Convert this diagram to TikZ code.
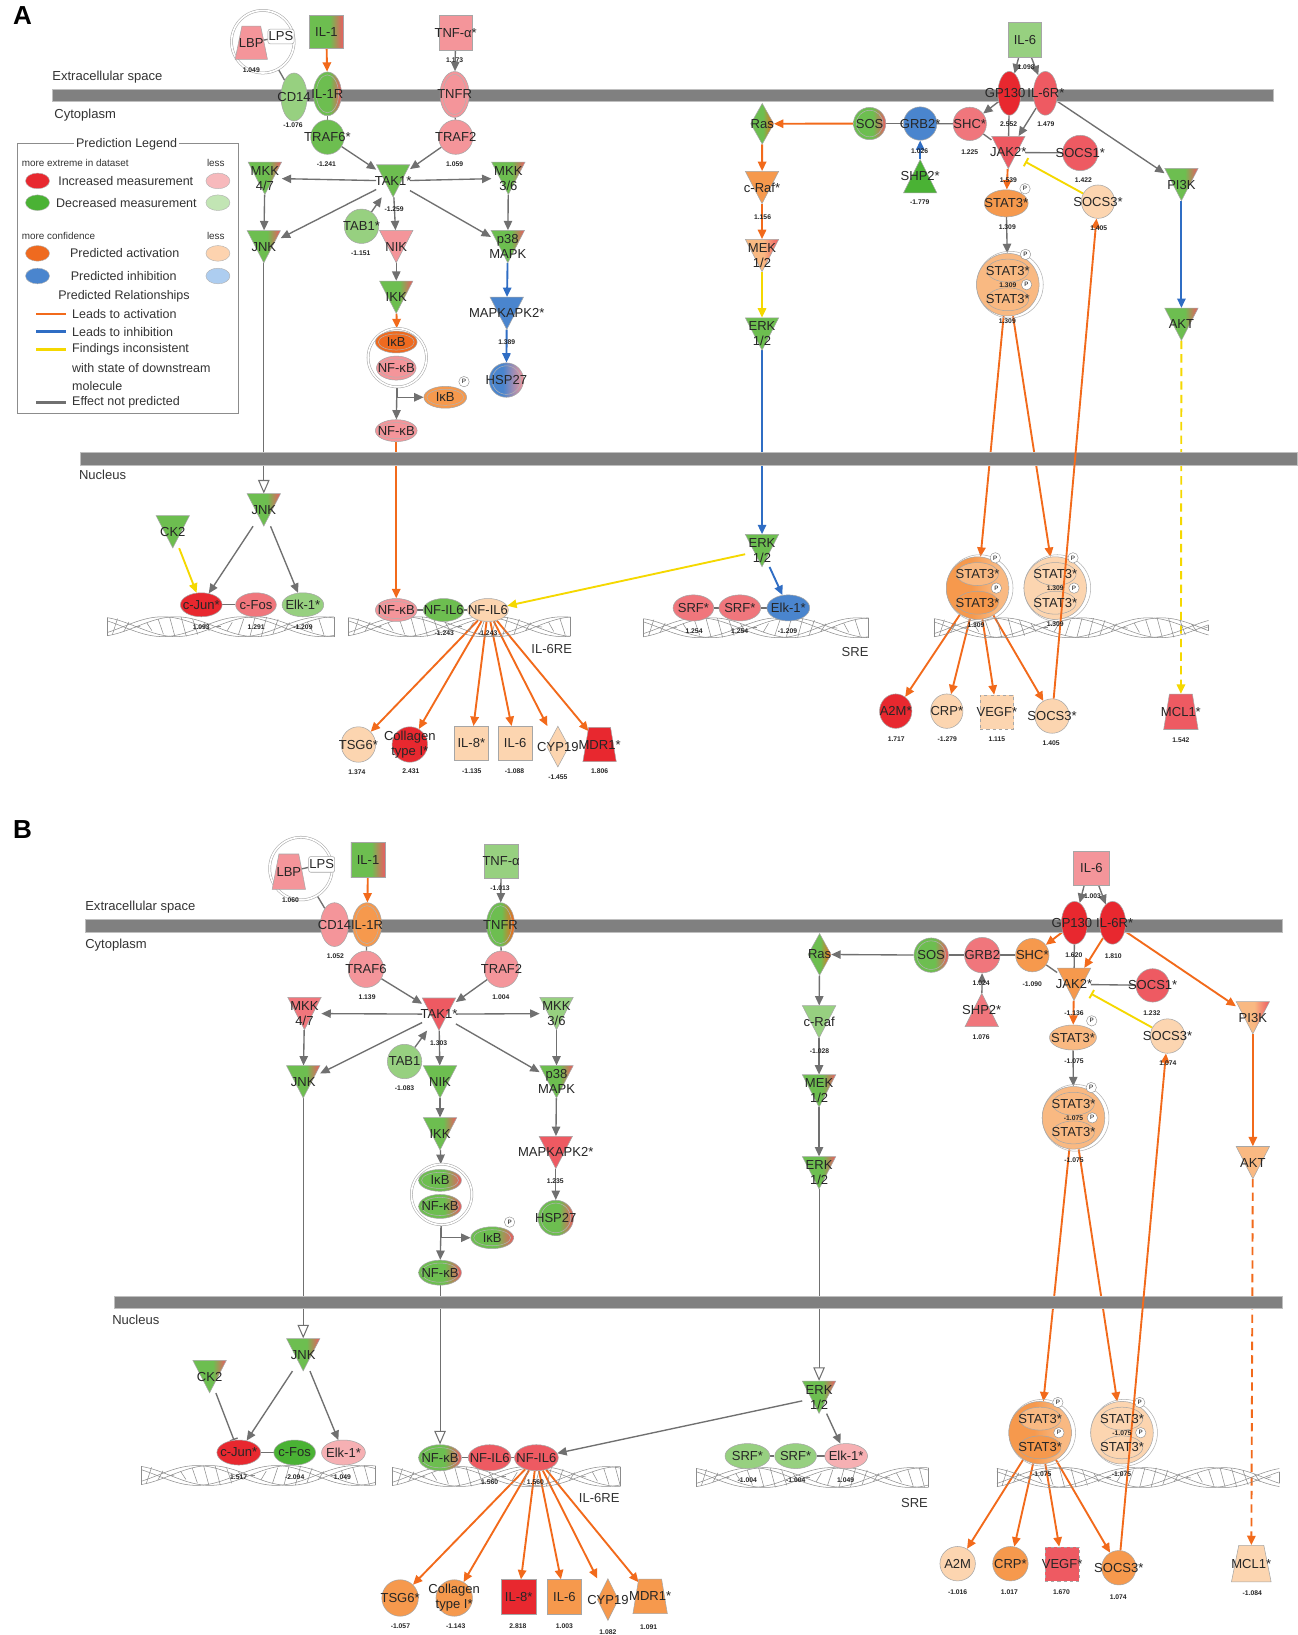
\documentclass[tikz,border=0pt]{standalone}
\usepackage{fontspec}
\setmainfont{Liberation Sans}
\usetikzlibrary{arrows.meta,calc,shapes.geometric}
\definecolor{cRs}{HTML}{E8282F}
\definecolor{cRm}{HTML}{EE5A62}
\definecolor{cPm}{HTML}{F0767C}
\definecolor{cPk}{HTML}{F4959A}
\definecolor{cPl}{HTML}{F6B0B3}
\definecolor{cGs}{HTML}{4AB234}
\definecolor{cGm}{HTML}{6DBE50}
\definecolor{cGl}{HTML}{97D080}
\definecolor{cOd}{HTML}{EF6A1F}
\definecolor{cOm}{HTML}{F6994D}
\definecolor{cOl}{HTML}{F9B982}
\definecolor{cPe}{HTML}{FCD5B0}
\definecolor{cBl}{HTML}{4A85CE}
\definecolor{lgR}{HTML}{F7B9BC}
\definecolor{lgG}{HTML}{C2E5B4}
\definecolor{lgO}{HTML}{FDD3AF}
\definecolor{lgB}{HTML}{ADCDF0}
\definecolor{eOr}{HTML}{F26A1B}
\definecolor{eBl}{HTML}{2F6DC4}
\definecolor{eYe}{HTML}{F5D800}
\definecolor{eGr}{HTML}{707070}
\definecolor{cBar}{HTML}{808080}
\pgfdeclarehorizontalshading{gR}{100bp}{color(0bp)=(cGm); color(25bp)=(cGm); color(55bp)=(cGm); color(75bp)=(cRm); color(100bp)=(cRm)}
\pgfdeclarehorizontalshading{gO}{100bp}{color(0bp)=(cGm); color(25bp)=(cGm); color(52bp)=(cGm); color(73bp)=(cOd); color(100bp)=(cOd)}
\pgfdeclarehorizontalshading{bP}{100bp}{color(0bp)=(cBl); color(25bp)=(cBl); color(45bp)=(cBl); color(75bp)=(cPk); color(100bp)=(cPk)}
\pgfdeclarehorizontalshading{oR}{100bp}{color(0bp)=(cOl); color(25bp)=(cOl); color(52bp)=(cOl); color(75bp)=(cRm); color(100bp)=(cRm)}
\pgfdeclarehorizontalshading{dO}{100bp}{color(0bp)=(cOm); color(25bp)=(cOm); color(45bp)=(cOm); color(65bp)=(cOl); color(100bp)=(cOl)}
\pgfdeclarelayer{edges}
\pgfdeclarelayer{bars}
\pgfdeclarelayer{labels}
\pgfsetlayers{edges,bars,main,labels}
\tikzset{
 nshape/.style={draw=black!35,line width=0.5pt},
 anc/.style={rectangle,inner sep=0pt},
 lab/.style={font=\fontsize{12.5}{14.5}\selectfont,text=black!85,align=center,inner sep=0pt},
 val/.style={font=\bfseries\fontsize{6.5}{7}\selectfont,text=black!85,inner sep=0pt},
 txt/.style={font=\fontsize{12.5}{14}\selectfont,text=black!80,inner sep=0pt,anchor=west},
 ltx/.style={font=\fontsize{12}{14}\selectfont,text=black!80,inner sep=0pt,anchor=west},
 lsm/.style={font=\fontsize{9.5}{11}\selectfont,text=black!80,inner sep=0pt},
 cplx/.style={circle,inner sep=0pt,draw=black!35,double=white,double distance=1.6pt,line width=0.5pt},
 pb/.style={circle,draw=black!45,fill=white,inner sep=0pt,minimum size=10,font=\fontsize{6}{6}\selectfont},
 inring/.style={draw=black!30,line width=0.5pt},
 dna/.style={draw=black!45,line width=0.5pt},
 lgE/.style={ellipse,draw=black!30,inner sep=0pt,minimum width=23,minimum height=15},
 sgR/.style={shade,shading=gR},
 sgO/.style={shade,shading=gO},
 sbP/.style={shade,shading=bP},
 soR/.style={shade,shading=oR},
 sdO/.style={shade,shading=dO},
 ln/.style={draw=eGr,line width=1.3pt},
 np/.style={ln,-{Triangle[length=9pt,width=8pt]}},
 act/.style={draw=eOr,line width=1.8pt,-{Triangle[length=9pt,width=8pt]}},
 inh/.style={draw=eBl,line width=1.8pt,-{Triangle[length=9pt,width=8pt]}},
 inc/.style={draw=eYe,line width=1.8pt,-{Triangle[length=9pt,width=8pt]}},
 incbar/.style={draw=eYe,line width=1.8pt,-{Bar[width=9pt]}},
 npbar/.style={ln,-{Bar[width=8pt]}},
 opn/.style={ln,line width=1pt,-{Triangle[open,length=13pt,width=11pt,fill=white]}},
 incd/.style={inc,dash pattern=on 8pt off 5pt},
 actd/.style={act,dash pattern=on 8pt off 5pt},
}
\newcounter{valc}
\newcommand\NLab[4]{\begin{pgfonlayer}{labels}\node[lab] (#1) at ({#2},{#3}) {#4};\end{pgfonlayer}}
\newcommand\NEl[7]{\node[nshape,ellipse,inner sep=0pt,minimum width=#4,minimum height=#5,#6] (#1) at ({#2},{#3}) {};\NLab{#1-t}{#2}{#3}{#7}}
\newcommand\NElI[7]{\NEl{#1}{#2}{#3}{#4}{#5}{#6}{#7}\draw[inring] ({#2},{#3}) ellipse [x radius={(#4)/2-2.8}, y radius={(#5)/2-2.8}];}
\newcommand\NTri[5]{\path[nshape,#4] ({#2-16},{#3-15.5}) -- ({#2+16},{#3-15.5}) -- ({#2},{#3+15.5}) -- cycle;\node[anc,minimum width=32,minimum height=31] (#1) at ({#2},{#3}) {};\NLab{#1-t}{#2}{#3}{#5}}
\newcommand\NTriU[5]{\path[nshape,#4] ({#2-16},{#3+16}) -- ({#2+16},{#3+16}) -- ({#2},{#3-16}) -- cycle;\node[anc,minimum width=32,minimum height=32] (#1) at ({#2},{#3}) {};\NLab{#1-t}{#2}{#3}{#5}}
\newcommand\NBox[7]{\node[nshape,rectangle,inner sep=0pt,minimum width=#4,minimum height=#5,#6] (#1) at ({#2},{#3}) {};\NLab{#1-t}{#2}{#3}{#7}}
\newcommand\NDia[7]{\path[nshape,#6] ({#2-(#4)/2},{#3}) -- ({#2},{#3-(#5)/2}) -- ({#2+(#4)/2},{#3}) -- ({#2},{#3+(#5)/2}) -- cycle;\node[anc,minimum width=#4,minimum height=#5] (#1) at ({#2},{#3}) {};\NLab{#1-t}{#2}{#3}{#7}}
\newcommand\NTrap[8]{\path[nshape,#7] ({#2-(#4)/2},{#3+(#6)/2}) -- ({#2+(#4)/2},{#3+(#6)/2}) -- ({#2+(#5)/2},{#3-(#6)/2}) -- ({#2-(#5)/2},{#3-(#6)/2}) -- cycle;\node[anc,minimum width=#5,minimum height=#6] (#1) at ({#2},{#3}) {};\NLab{#1-t}{#2}{#3}{#8}}
\newcommand\NCx[4]{\node[cplx,minimum size={2*(#4)}] (#1) at ({#2},{#3}) {};}
\newcommand\NPb[3]{\node[pb] (#1) at ({#2},{#3}) {P};}
\newcommand\NDimer[6]{\draw[black!30,line width=0.5pt] ({#2+2},{#3}) circle [radius=32];\node[nshape,circle,inner sep=0pt,minimum size=60,#4] (#1) at ({#2},{#3}) {};\NEl{#1-a}{#2}{#3-13.5}{40}{22}{#5}{STAT3*}\NEl{#1-b}{#2}{#3+14}{40}{22}{#6}{STAT3*}\NPb{#1-p1}{#2+17}{#3-29}\NPb{#1-p2}{#2+18}{#3}}
\newcommand\NVal[3]{\stepcounter{valc}\begin{pgfonlayer}{labels}\node[val] (val\arabic{valc}) at ({#1},{#2}) {#3};\end{pgfonlayer}}
\newcommand\NDna[3]{%
 \draw[dna] plot[domain=#1:#2,samples=80,smooth] (\x,{#3+9.5*sin((\x-#1-28)*2.36842)});
 \draw[dna] plot[domain=#1:#2,samples=80,smooth] (\x,{#3+9.5*sin((\x-#1-28)*2.36842+30)});
 \draw[dna] plot[domain=#1:#2,samples=80,smooth] (\x,{#3-9.5*sin((\x-#1-28)*2.36842)});
 \draw[dna] plot[domain=#1:#2,samples=80,smooth] (\x,{#3-9.5*sin((\x-#1-28)*2.36842+30)});
 \draw[dna] ({#1},{#3-9.5*sin(-28*2.36842)}) -- ({#1},{#3+9.5*sin(-28*2.36842)});
 \draw[dna] ({#2},{#3-9.5*sin((#2-#1-28)*2.36842)}) -- ({#2},{#3+9.5*sin((#2-#1-28)*2.36842)});
 \pgfmathtruncatemacro\nrung{(#2-#1-10)/11}
 \foreach \k in {0,...,\nrung}{\pgfmathsetmacro\xa{#1+5+11*\k}\pgfmathsetmacro\sa{9.5*sin((\xa-#1-28)*2.36842)}\draw[dna] ({\xa},{#3-(\sa)}) -- ({\xa+5},{#3+(\sa)});}}
\begin{document}
\begin{tikzpicture}[x=1pt,y=-1pt]
\useasboundingbox (0,0) rectangle (1244,1568);
\begin{pgfonlayer}{edges}
\fill[white] (0,0) rectangle (1244,1568);
\end{pgfonlayer}
\begin{pgfonlayer}{bars}
\filldraw[cBar,draw=black!25] (50,86) rectangle (1221,97.5);
\filldraw[cBar,draw=black!25] (77,434) rectangle (1244,446);
\filldraw[cBar,draw=black!25] (81.6,882) rectangle (1230,894.3);
\filldraw[cBar,draw=black!25] (109.5,1243) rectangle (1230,1255);
\NDna{102.7}{320.4}{601}
\NDna{334}{547}{601}
\NDna{617}{833}{602}
\NDna{895.7}{1159}{602}
\NDna{135.3}{360.2}{1415}
\NDna{376}{595}{1416}
\NDna{667.6}{890.5}{1417}
\NDna{956}{1227}{1417}
\end{pgfonlayer}
% ---------- texts
\node[font=\bfseries\fontsize{25}{25}\selectfont] (pA) at (21.5,15) {A};
\node[font=\bfseries\fontsize{25}{25}\selectfont] (pB) at (21.5,796) {B};
\node[txt] (a-ext) at (50,74) {Extracellular space};
\node[txt] (a-cyt) at (52,110) {Cytoplasm};
\node[txt] (a-nuc) at (75.6,455.6) {Nucleus};
\node[txt] (a-il6re) at (509.4,622) {IL-6RE};
\node[txt] (a-sre) at (807,625) {SRE};
\node[txt] (b-ext) at (81.6,870.3) {Extracellular space};
\node[txt] (b-cyt) at (81.6,906.5) {Cytoplasm};
\node[txt] (b-nuc) at (107.5,1265.5) {Nucleus};
\node[txt] (b-il6re) at (555,1436.5) {IL-6RE};
\node[txt] (b-sre) at (864,1441.3) {SRE};
% ---------- legend
\draw[black!45,line width=0.6pt] (16.7,137.5) rectangle (229,396.4);
\node[ltx,anchor=center,fill=white,inner sep=2pt] (lg-t) at (121.4,138) {Prediction Legend};
\node[lsm,anchor=west] (lg-m1) at (20.7,156) {more extreme in dataset};
\node[lsm] (lg-l1) at (207,156) {less};
\node[lgE,fill=cRs] (lg-e1) at (36,173.5) {};
\node[lgE,fill=lgR] (lg-e2) at (209,173.5) {};
\node[ltx] (lg-x1) at (55.7,173.5) {Increased measurement};
\node[lgE,fill=cGs] (lg-e3) at (36,194.4) {};
\node[lgE,fill=lgG] (lg-e4) at (209,194.4) {};
\node[ltx] (lg-x2) at (53.7,194.4) {Decreased measurement};
\node[lsm,anchor=west] (lg-m2) at (20.7,226) {more confidence};
\node[lsm] (lg-l2) at (207,226) {less};
\node[lgE,fill=cOd] (lg-e5) at (36,243) {};
\node[lgE,fill=lgO] (lg-e6) at (209,243) {};
\node[ltx] (lg-x3) at (67,243) {Predicted activation};
\node[lgE,fill=cBl] (lg-e7) at (36,264.7) {};
\node[lgE,fill=lgB] (lg-e8) at (209,264.7) {};
\node[ltx] (lg-x4) at (67.7,264.7) {Predicted inhibition};
\node[ltx] (lg-x5) at (55.7,284) {Predicted Relationships};
\draw[eOr,line width=2.5pt] (35,301) -- (63,301);
\node[ltx] (lg-x6) at (69,301) {Leads to activation};
\draw[eBl,line width=2.5pt] (35,318) -- (63,318);
\node[ltx] (lg-x7) at (69,318) {Leads to inhibition};
\draw[eYe,line width=2.5pt] (35,335) -- (63,335);
\node[ltx] (lg-x8) at (69,335) {Findings inconsistent};
\node[ltx] (lg-x9) at (69,352.6) {with state of downstream};
\node[ltx] (lg-x10) at (69,370) {molecule};
\draw[eGr,line width=2.5pt] (35,386) -- (63,386);
\node[ltx] (lg-x11) at (69,386) {Effect not predicted};
% ================= PANEL A nodes
\NCx{a-LBPcx}{252}{40}{30}
\NTrap{a-LBP}{241}{41}{31}{18}{32}{fill=cPk}{LBP}
\NBox{a-LPS}{269.5}{35}{25}{14}{rounded corners=2pt,fill=white}{LPS}
\NBox{a-IL1}{313}{30.5}{33}{32}{sgR}{IL-1}
\NBox{a-TNFa}{437}{31.5}{32}{33}{fill=cPk}{TNF-α*}
\NEl{a-CD14}{282}{93}{25}{46}{fill=cGl}{CD14}
\NElI{a-IL1R}{314}{90}{27}{42}{sgR}{IL-1R}
\NEl{a-TRAF6}{314}{131.5}{32}{33}{fill=cGm}{TRAF6*}
\NElI{a-TNFR}{436}{90.6}{28}{44}{fill=cPk}{TNFR}
\NEl{a-TRAF2}{437}{131.5}{33}{33}{fill=cPk}{TRAF2}
\NTri{a-TAK1}{377}{173.5}{fill=cGm}{TAK1*}
\NTri{a-MKK47}{254}{171}{sgR}{MKK\\4/7}
\NTri{a-MKK36}{487.5}{171}{sgR}{MKK\\3/6}
\NTri{a-JNKc}{253}{236.6}{sgR}{JNK}
\NEl{a-TAB1}{346.7}{217}{33}{33}{fill=cGl}{TAB1*}
\NTri{a-NIK}{380}{236.5}{fill=cPk}{NIK}
\NTri{a-p38}{487}{236.5}{sgR}{p38\\MAPK}
\NTri{a-IKK}{380}{285}{sgR}{IKK}
\NCx{a-IkBcx}{381}{343}{28}
\NElI{a-IkB}{380}{328}{40}{21}{fill=cOd}{IκB}
\NElI{a-NFkB1}{380}{353}{38}{23}{fill=cPk}{NF-κB}
\NTri{a-MK2}{486}{300.5}{fill=cBl}{MAPKAPK2*}
\NElI{a-HSP27}{485.6}{364.5}{33}{33}{sbP}{HSP27}
\NElI{a-IkBp}{427}{381}{41}{21}{fill=cOm}{IκB}
\NPb{a-IkBp-p}{445}{366}
\NElI{a-NFkBc}{380}{413}{40}{21}{fill=cPk}{NF-κB}
\NBox{a-IL6}{983}{38}{32}{33}{fill=cGl}{IL-6}
\NEl{a-GP130}{968}{89.5}{22}{42}{fill=cRs}{}
\NEl{a-IL6R}{1002.5}{89.5}{23}{42}{fill=cRm}{}
\NLab{a-GP130-l}{964}{89.5}{GP130}
\NLab{a-IL6R-l}{1003}{89.5}{IL-6R*}
\NDia{a-Ras}{731}{118.7}{22}{39}{sgO}{Ras}
\NElI{a-SOS}{834}{118.5}{31}{31}{sgR}{SOS}
\NEl{a-GRB2}{882.5}{118.5}{32}{32}{fill=cBl}{GRB2*}
\NEl{a-SHC}{930}{118.8}{32}{32}{fill=cPm}{SHC*}
\NTri{a-JAK2}{967}{146.2}{fill=cRm}{JAK2*}
\NEl{a-SOCS1}{1036}{146.7}{34}{34}{fill=cRm}{SOCS1*}
\NTriU{a-SHP2}{882.5}{169}{fill=cGs}{SHP2*}
\NTri{a-cRaf}{730.8}{179.8}{fill=cOm}{c-Raf*}
\NTri{a-MEK}{730.8}{245}{soR}{MEK\\1/2}
\NTri{a-ERKc}{730.8}{320.3}{fill=cGm}{ERK\\1/2}
\NEl{a-STAT3p}{965}{195}{42}{26}{fill=cOm}{STAT3*}
\NPb{a-STAT3p-p}{983}{181}
\NEl{a-SOCS3c}{1053}{193.4}{32}{32}{fill=cPe}{SOCS3*}
\NDimer{a-STATd}{966.5}{273}{fill=cOl}{fill=cOl}{fill=cOl}
\NTri{a-PI3K}{1133}{177}{sgR}{PI3K}
\NTri{a-AKT}{1133}{311}{sgR}{AKT}
\NTri{a-JNKn}{253}{489}{sgR}{JNK}
\NTri{a-CK2}{165.7}{510}{fill=cGm}{CK2}
\NEl{a-cJun}{193}{580}{40}{23}{fill=cRs}{c-Jun*}
\NEl{a-cFos}{245.5}{580}{39}{23}{fill=cPm}{c-Fos}
\NEl{a-Elk1a}{290.5}{580}{40}{23}{fill=cGl}{Elk-1*}
\NElI{a-NFkBn}{380}{585}{40}{22}{fill=cPk}{NF-κB}
\NEl{a-NFIL6a}{425.5}{585}{39}{22}{fill=cGm}{NF-IL6}
\NEl{a-NFIL6b}{468}{585}{39}{22}{fill=cPe}{NF-IL6}
\NEl{a-TSG6}{343.7}{714}{33}{34}{fill=cPe}{TSG6*}
\NEl{a-Col}{393}{714}{34}{34}{fill=cRs}{Collagen\\type I*}
\NBox{a-IL8}{452}{713}{32}{33}{fill=cPe}{IL-8*}
\NBox{a-IL6n}{494}{713}{32}{33}{fill=cPe}{IL-6}
\NDia{a-CYP}{535}{716}{21}{39}{fill=cPe}{CYP19}
\NTrap{a-MDR}{575}{714}{32}{21}{33}{fill=cRs}{MDR1*}
\NTri{a-ERKn}{730.8}{528}{fill=cGm}{ERK\\1/2}
\NEl{a-SRF1}{665}{583}{39}{25}{fill=cPm}{SRF*}
\NEl{a-SRF2}{709.5}{583}{40}{25}{fill=cPm}{SRF*}
\NEl{a-Elk1b}{756}{583}{41}{25}{fill=cBl}{Elk-1*}
\NDimer{a-STn1}{937.5}{564}{sdO}{fill=cOl}{fill=cOm}
\NDimer{a-STn2}{1012}{564}{fill=cPe}{fill=cPe}{fill=cPe}
\NEl{a-A2M}{859}{682}{31}{33}{fill=cRs}{A2M*}
\NEl{a-CRP}{908}{682}{31}{33}{fill=cPe}{CRP*}
\NBox{a-VEGF}{956}{683}{32}{33}{fill=cPe,dashed}{VEGF*}
\NEl{a-SOCS3n}{1009}{686.7}{33}{33}{fill=cPe}{SOCS3*}
\NTrap{a-MCL1}{1132.5}{682.6}{33}{22}{34}{fill=cRm}{MCL1*}
% ================= PANEL B nodes
\NCx{b-LBPcx}{288.6}{833}{30}
\NTrap{b-LBP}{277}{836}{32}{19}{34}{fill=cPk}{LBP}
\NBox{b-LPS}{308.5}{829}{25}{15}{rounded corners=2pt,fill=white}{LPS}
\NBox{b-IL1}{353}{824.5}{33}{34}{sgR}{IL-1}
\NBox{b-TNFa}{480.6}{825.8}{33}{33}{fill=cGl}{TNF-α}
\NEl{b-CD14}{320.8}{886.7}{27}{42}{fill=cPk}{CD14}
\NElI{b-IL1R}{352}{886.7}{28}{42}{fill=cOm}{IL-1R}
\NEl{b-TRAF6}{351}{929.5}{34}{35}{fill=cPk}{TRAF6}
\NElI{b-TNFR}{480}{886.7}{27}{42}{sgO}{TNFR}
\NEl{b-TRAF2}{481}{929.5}{33}{35}{fill=cPk}{TRAF2}
\NTri{b-TAK1}{421}{972.6}{fill=cRm}{TAK1*}
\NTri{b-MKK47}{292}{972}{fill=cPm}{MKK\\4/7}
\NTri{b-MKK36}{533.7}{972}{fill=cGl}{MKK\\3/6}
\NTri{b-JNKc}{290.8}{1037.5}{sgR}{JNK}
\NEl{b-TAB1}{388}{1018}{33}{33}{fill=cGl}{TAB1}
\NTri{b-NIK}{422}{1037.5}{fill=cGm}{NIK}
\NTri{b-p38}{533.7}{1037.5}{sgR}{p38\\MAPK}
\NTri{b-IKK}{422}{1087.4}{sgR}{IKK}
\NTri{b-MK2}{533}{1105.2}{fill=cRm}{MAPKAPK2*}
\NCx{b-IkBcx}{423.5}{1145.5}{29}
\NElI{b-IkB}{422}{1132}{41}{21}{sgR}{IκB}
\NElI{b-NFkB1}{422}{1157}{41}{23}{sgR}{NF-κB}
\NElI{b-HSP27}{533}{1168}{34}{34}{sgR}{HSP27}
\NElI{b-IkBp}{472}{1187}{41}{21}{sgR}{IκB}
\NPb{b-IkBp-p}{488.7}{1172}
\NElI{b-NFkBc}{422}{1220.5}{41}{24}{sgR}{NF-κB}
\NBox{b-IL6}{1046.7}{832.5}{34}{33}{fill=cPk}{IL-6}
\NEl{b-GP130}{1030.5}{885}{25}{41}{fill=cRs}{}
\NEl{b-IL6R}{1067}{885}{25}{41}{fill=cRs}{}
\NLab{b-GP130-l}{1028}{885}{GP130}
\NLab{b-IL6R-l}{1069}{885}{IL-6R*}
\NDia{b-Ras}{786}{915.3}{22}{40}{sgO}{Ras}
\NElI{b-SOS}{893}{916}{33}{33}{sgR}{SOS}
\NEl{b-GRB2}{942}{916}{34}{34}{fill=cPm}{GRB2}
\NEl{b-SHC}{990}{916}{32}{32}{fill=cOm}{SHC*}
\NTri{b-JAK2}{1030}{944}{fill=cOm}{JAK2*}
\NEl{b-SOCS1}{1105.4}{945}{32}{32}{fill=cRm}{SOCS1*}
\NTriU{b-SHP2}{941.5}{968.5}{fill=cPm}{SHP2*}
\NTri{b-cRaf}{785.5}{980}{fill=cGl}{c-Raf}
\NTri{b-MEK}{785.5}{1046.2}{sgR}{MEK\\1/2}
\NTri{b-ERKc}{785.5}{1124.7}{sgR}{ERK\\1/2}
\NEl{b-STAT3p}{1029}{995}{45}{24}{fill=cOl}{STAT3*}
\NPb{b-STAT3p-p}{1047}{979}
\NEl{b-SOCS3c}{1119.7}{993.6}{33}{33}{fill=cPe}{SOCS3*}
\NDimer{b-STATd}{1029.5}{1072}{fill=cOl}{fill=cOl}{fill=cOl}
\NTri{b-PI3K}{1201.5}{976}{soR}{PI3K}
\NTri{b-AKT}{1201.5}{1115}{fill=cOl}{AKT}
\NTri{b-JNKn}{290.8}{1299.2}{sgR}{JNK}
\NTri{b-CK2}{201}{1320.2}{sgR}{CK2}
\NEl{b-cJun}{229}{1393}{42}{24}{fill=cRs}{c-Jun*}
\NEl{b-cFos}{282.6}{1393}{40}{24}{fill=cGs}{c-Fos}
\NEl{b-Elk1a}{329.4}{1393}{42}{24}{fill=cPl}{Elk-1*}
\NElI{b-NFkBn}{422}{1398}{41}{25}{sgR}{NF-κB}
\NEl{b-NFIL6a}{469.6}{1398}{41}{25}{fill=cRm}{NF-IL6}
\NEl{b-NFIL6b}{514.4}{1398}{42}{25}{fill=cRm}{NF-IL6}
\NEl{b-TSG6}{383.7}{1532.5}{35}{35}{fill=cOm}{TSG6*}
\NEl{b-Col}{435.6}{1532.5}{35}{35}{fill=cOm}{Collagen\\type I*}
\NBox{b-IL8}{497.5}{1531.4}{33}{33}{fill=cRs}{IL-8*}
\NBox{b-IL6n}{541.3}{1531.4}{33}{33}{fill=cOm}{IL-6}
\NDia{b-CYP}{583}{1534}{20}{40}{fill=cOm}{CYP19}
\NTrap{b-MDR}{623.5}{1531}{33}{22}{33}{fill=cOm}{MDR1*}
\NTri{b-ERKn}{785.5}{1340}{sgR}{ERK\\1/2}
\NEl{b-SRF1}{716.8}{1396.4}{43}{24}{fill=cGl}{SRF*}
\NEl{b-SRF2}{763}{1396.4}{40}{24}{fill=cGl}{SRF*}
\NEl{b-Elk1b}{811.5}{1396.4}{41}{24}{fill=cPl}{Elk-1*}
\NDimer{b-STn1}{997.5}{1374}{sdO}{fill=cOl}{fill=cOm}
\NDimer{b-STn2}{1076}{1374}{fill=cPe}{fill=cPe}{fill=cPe}
\NEl{b-A2M}{918.4}{1499.6}{34}{33}{fill=cPe}{A2M}
\NEl{b-CRP}{969}{1499.6}{34}{33}{fill=cOm}{CRP*}
\NBox{b-VEGF}{1018.6}{1500}{33}{33}{fill=cRm,dashed}{VEGF*}
\NEl{b-SOCS3n}{1073}{1503.5}{33}{33}{fill=cOm}{SOCS3*}
\NTrap{b-MCL1}{1200}{1499.5}{38}{24}{35}{fill=cPe}{MCL1*}
% ================= values
\NVal{241}{67}{1.049}\NVal{436}{57.5}{1.173}\NVal{281}{120.5}{-1.076}\NVal{313}{157.6}{-1.241}
\NVal{436}{157.6}{1.059}\NVal{378}{200.5}{-1.259}\NVal{346}{243}{-1.151}\NVal{486}{327.7}{1.389}
\NVal{984}{64}{1.098}\NVal{967.3}{119.2}{2.552}\NVal{1003}{119.2}{1.479}\NVal{882}{144.8}{1.026}
\NVal{930}{145.5}{1.225}\NVal{967}{172.6}{1.539}\NVal{1039}{172.6}{1.422}\NVal{882}{194}{-1.779}
\NVal{731.3}{207.8}{1.156}\NVal{966}{217.4}{1.309}\NVal{1053.7}{219}{1.405}\NVal{966.5}{273.5}{1.309}
\NVal{966}{307.8}{1.309}\NVal{193}{601.8}{1.093}\NVal{245.6}{601.8}{1.291}\NVal{290.5}{601.8}{-1.209}
\NVal{426}{607.5}{-1.243}\NVal{467.7}{607.5}{-1.243}\NVal{342.3}{740.2}{1.374}\NVal{394}{740}{2.431}
\NVal{452.5}{740}{-1.135}\NVal{493.5}{740}{-1.088}\NVal{535}{745.6}{-1.455}\NVal{575}{740}{1.806}
\NVal{665.6}{605}{1.254}\NVal{709.4}{605}{1.254}\NVal{755.2}{605}{-1.209}\NVal{936}{600}{1.309}
\NVal{1012}{564.5}{1.309}\NVal{1012}{598.5}{1.309}\NVal{859.5}{709}{1.717}\NVal{908.4}{709}{-1.279}
\NVal{956}{709}{1.115}\NVal{1008}{712.4}{1.405}\NVal{1132.5}{710}{1.542}
\NVal{278.6}{863}{1.060}\NVal{479.6}{852}{-1.013}\NVal{321.6}{917}{1.052}\NVal{352}{956.6}{1.139}
\NVal{480.4}{956.6}{1.004}\NVal{420.7}{1000}{1.303}\NVal{388}{1044}{-1.083}\NVal{532.5}{1132.8}{1.235}
\NVal{1047.7}{859.5}{1.003}\NVal{1029.8}{916}{1.620}\NVal{1067.6}{917}{1.810}\NVal{941}{943.2}{1.024}
\NVal{990}{944}{-1.090}\NVal{1030}{972}{-1.136}\NVal{1104.6}{972}{1.232}\NVal{941}{995}{1.076}
\NVal{786}{1007.8}{-1.028}\NVal{1030}{1017.7}{-1.075}\NVal{1120}{1020}{1.074}\NVal{1029.5}{1072.5}{-1.075}
\NVal{1030}{1112.7}{-1.075}\NVal{228.8}{1416.4}{1.517}\NVal{282.6}{1416.4}{-2.094}\NVal{328.4}{1416.4}{1.049}
\NVal{469.6}{1421.8}{1.560}\NVal{513.4}{1421.8}{1.560}\NVal{384}{1559.6}{-1.057}\NVal{437}{1559.6}{-1.143}
\NVal{496.7}{1559.6}{2.818}\NVal{541.3}{1559.6}{1.003}\NVal{583}{1565}{1.082}\NVal{622}{1560}{1.091}
\NVal{716.6}{1419.6}{-1.004}\NVal{763.2}{1419.6}{-1.004}\NVal{811}{1419.6}{1.049}\NVal{999}{1414}{-1.075}
\NVal{1076}{1374.5}{-1.075}\NVal{1075.6}{1414}{-1.075}\NVal{918.4}{1526.7}{-1.016}\NVal{968}{1526.7}{1.017}
\NVal{1018}{1526.7}{1.670}\NVal{1072.4}{1531.5}{1.074}\NVal{1201}{1528.3}{-1.084}
% lines that pass over the nuclear STAT3 dimers
\draw[act] (a-SOCS3n) -- (a-SOCS3c);
\draw[act] (b-SOCS3n) -- (b-SOCS3c);
% ================= edges
\begin{pgfonlayer}{edges}
% panel A
\draw[act] (a-IL1) -- (a-IL1R);
\draw[np] (a-TNFa) -- (a-TNFR);
\draw[ln] (a-LBPcx) -- (a-CD14);
\draw[ln] (a-LBP) -- (a-LPS);
\draw[ln] (a-IL1R) -- (a-TRAF6);
\draw[ln] (a-TNFR) -- (a-TRAF2);
\draw[np] (a-TRAF6) -- (a-TAK1);
\draw[np] (a-TRAF2) -- (a-TAK1);
\draw[np] (a-TAK1) -- (a-MKK47);
\draw[np] (a-TAK1) -- (a-MKK36);
\draw[np] (a-TAK1) -- (a-JNKc);
\draw[np] (a-TAB1) -- (a-TAK1);
\draw[np] (a-TAK1) -- (a-NIK);
\draw[np] (a-TAK1) -- (a-p38);
\draw[np] (a-MKK47) -- (a-JNKc);
\draw[np] (a-MKK36) -- (a-p38);
\draw[np] (a-NIK) -- (a-IKK);
\draw[act] (a-IKK) -- (a-IkBcx);
\draw[inh] (a-p38) -- (a-MK2);
\draw[inh] (a-MK2) -- (a-HSP27);
\draw[np] (a-IkBcx.south) |- (a-IkBp);
\draw[np] (a-IkBcx) -- (a-NFkBc);
\draw[act] (a-NFkBc) -- (a-NFkBn);
\draw[opn] (a-JNKc) -- (a-JNKn);
\draw[inc] (a-CK2) -- (a-cJun);
\draw[np] (a-JNKn) -- (a-cJun);
\draw[np] (a-JNKn) -- (a-Elk1a);
\draw[ln] (a-cJun) -- (a-cFos);
\draw[ln] (a-NFkBn) -- (a-NFIL6a);
\draw[ln] (a-NFIL6a) -- (a-NFIL6b);
\draw[inc] (a-ERKn) -- (a-NFIL6b);
\foreach \t in {TSG6,Col,IL8,IL6n,CYP,MDR} {\draw[act] (a-NFIL6b) -- (a-\t);}
\draw[np] ($(a-IL6.south)+(-6,0)$) -- (a-GP130);
\draw[np] ($(a-IL6.south)+(6,0)$) -- (a-IL6R);
\draw[np] (a-GP130) -- (a-SHC);
\draw[np] (a-IL6R) -- (a-JAK2);
\draw[ln] (a-GP130) -- (a-JAK2);
\draw[ln] (a-SHC) -- (a-JAK2);
\draw[ln] (a-JAK2) -- (a-SOCS1);
\draw[ln] (a-SOS) -- (a-GRB2);
\draw[ln] (a-GRB2) -- (a-SHC);
\draw[act] (a-SOS) -- (a-Ras);
\draw[inh] (a-SHP2) -- (a-GRB2);
\draw[np] (a-IL6R) -- (a-PI3K);
\draw[act] (a-Ras) -- (a-cRaf);
\draw[act] (a-cRaf) -- (a-MEK);
\draw[inc] (a-MEK) -- (a-ERKc);
\draw[inh] (a-ERKc) -- (a-ERKn);
\draw[inh] (a-ERKn) -- (a-Elk1b);
\draw[ln] (a-SRF1) -- (a-SRF2);
\draw[ln] (a-SRF2) -- (a-Elk1b);
\draw[act] (a-JAK2) -- (a-STAT3p);
\draw[incbar] (a-SOCS3c) -- (a-JAK2);
\draw[np] (a-STAT3p) -- (a-STATd);
\draw[act] ($(a-STATd.south)+(-4,0)$) -- (a-STn1);
\draw[act] ($(a-STATd.south)+(5,0)$) -- (a-STn2);
\foreach \t in {A2M,CRP,VEGF,SOCS3n} {\draw[act] (a-STn1) -- (a-\t);}
\draw[inh] (a-PI3K) -- (a-AKT);
\draw[incd] (a-AKT) -- (a-MCL1);
% panel B
\draw[act] (b-IL1) -- (b-IL1R);
\draw[np] (b-TNFa) -- (b-TNFR);
\draw[ln] (b-LBPcx) -- (b-CD14);
\draw[ln] (b-LBP) -- (b-LPS);
\draw[ln] (b-IL1R) -- (b-TRAF6);
\draw[ln] (b-TNFR) -- (b-TRAF2);
\draw[np] (b-TRAF6) -- (b-TAK1);
\draw[np] (b-TRAF2) -- (b-TAK1);
\draw[np] (b-TAK1) -- (b-MKK47);
\draw[np] (b-TAK1) -- (b-MKK36);
\draw[np] (b-TAK1) -- (b-JNKc);
\draw[np] (b-TAB1) -- (b-TAK1);
\draw[np] (b-TAK1) -- (b-NIK);
\draw[np] (b-TAK1) -- (b-p38);
\draw[np] (b-MKK47) -- (b-JNKc);
\draw[np] (b-MKK36) -- (b-p38);
\draw[np] (b-NIK) -- (b-IKK);
\draw[np] (b-IKK) -- (b-IkBcx);
\draw[np] (b-p38) -- (b-MK2);
\draw[np] (b-MK2) -- (b-HSP27);
\draw[np] (b-IkBcx.south) |- (b-IkBp);
\draw[np] (b-IkBcx) -- (b-NFkBc);
\draw[opn] (b-NFkBc) -- (b-NFkBn);
\draw[opn] (b-JNKc) -- (b-JNKn);
\draw[npbar] (b-CK2) -- (b-cJun);
\draw[np] (b-JNKn) -- (b-cJun);
\draw[np] (b-JNKn) -- (b-Elk1a);
\draw[ln] (b-cJun) -- (b-cFos);
\draw[ln] (b-NFkBn) -- (b-NFIL6a);
\draw[ln] (b-NFIL6a) -- (b-NFIL6b);
\draw[np] (b-ERKn) -- (b-NFIL6b);
\foreach \t in {TSG6,Col,IL8,IL6n,CYP,MDR} {\draw[act] (b-NFIL6b) -- (b-\t);}
\draw[np] ($(b-IL6.south)+(-7,0)$) -- (b-GP130);
\draw[np] ($(b-IL6.south)+(7,0)$) -- (b-IL6R);
\draw[act] (b-GP130) -- (b-SHC);
\draw[act] (b-IL6R) -- (b-JAK2);
\draw[ln] (b-GP130) -- (b-JAK2);
\draw[ln] (b-SHC) -- (b-JAK2);
\draw[ln] (b-JAK2) -- (b-SOCS1);
\draw[ln] (b-SOS) -- (b-GRB2);
\draw[ln] (b-GRB2) -- (b-SHC);
\draw[np] (b-SOS) -- (b-Ras);
\draw[np] (b-SHP2) -- (b-GRB2);
\draw[act] (b-IL6R) -- (b-PI3K);
\draw[np] (b-Ras) -- (b-cRaf);
\draw[np] (b-cRaf) -- (b-MEK);
\draw[np] (b-MEK) -- (b-ERKc);
\draw[opn] (b-ERKc) -- (b-ERKn);
\draw[np] (b-ERKn) -- (b-Elk1b);
\draw[ln] (b-SRF1) -- (b-SRF2);
\draw[ln] (b-SRF2) -- (b-Elk1b);
\draw[act] (b-JAK2) -- (b-STAT3p);
\draw[incbar] (b-SOCS3c) -- (b-JAK2);
\draw[np] (b-STAT3p) -- (b-STATd);
\draw[act] ($(b-STATd.south)+(-4,0)$) -- (b-STn1);
\draw[act] ($(b-STATd.south)+(5,0)$) -- (b-STn2);
\foreach \t in {A2M,CRP,VEGF,SOCS3n} {\draw[act] (b-STn1) -- (b-\t);}
\draw[act] (b-PI3K) -- (b-AKT);
\draw[actd] (b-AKT) -- (b-MCL1);
\end{pgfonlayer}
\end{tikzpicture}
\end{document}
